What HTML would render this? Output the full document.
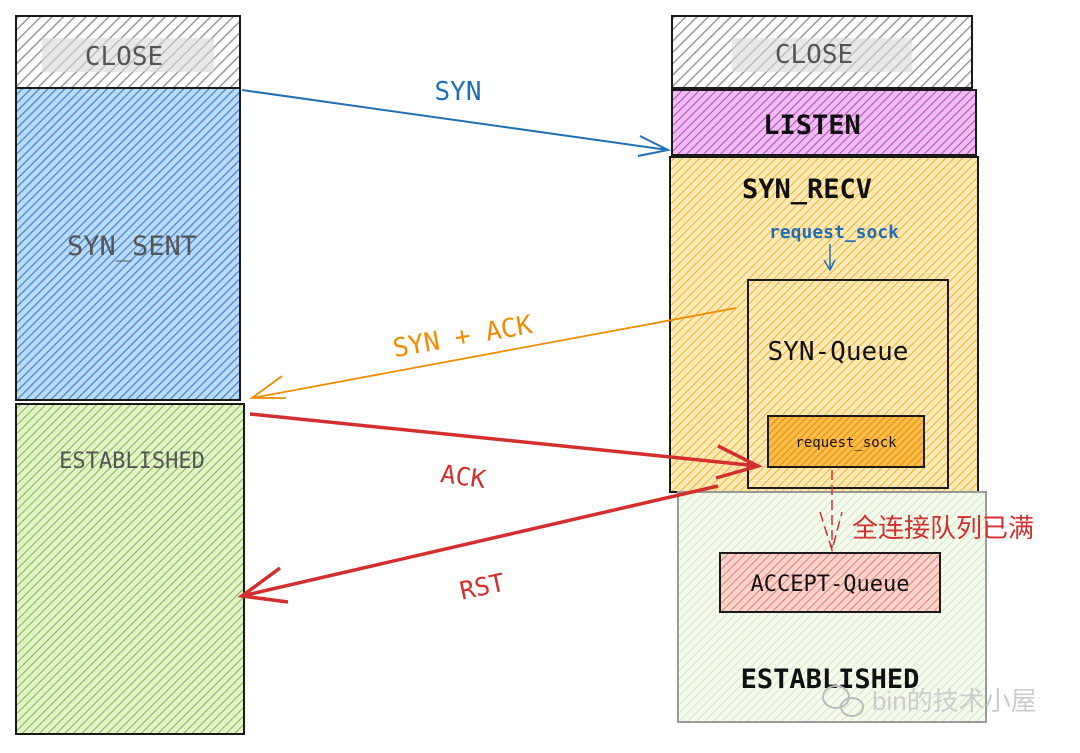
<!DOCTYPE html>
<html><head><meta charset="utf-8"><style>
body{margin:0;background:#fff;width:1080px;height:748px;overflow:hidden}
text{font-family:"DejaVu Sans Mono","Liberation Mono","Noto Sans CJK SC",monospace}
</style></head><body>
<svg width="1080" height="748" xmlns="http://www.w3.org/2000/svg">
<defs>
<pattern id="pg" width="8" height="8" patternUnits="userSpaceOnUse" patternTransform="rotate(45)"><rect width="8" height="8" fill="#fff"/><line x1="0" y1="0" x2="0" y2="8" stroke="#9a9a9a" stroke-width="3"/></pattern>
<pattern id="pb" width="6" height="6" patternUnits="userSpaceOnUse" patternTransform="rotate(45)"><rect width="6" height="6" fill="#bcdaf5"/><line x1="0" y1="0" x2="0" y2="6" stroke="#3d87d6" stroke-width="2.5"/></pattern>
<pattern id="pgr" width="6" height="6" patternUnits="userSpaceOnUse" patternTransform="rotate(45)"><rect width="6" height="6" fill="#e2f2cc"/><line x1="0" y1="0" x2="0" y2="6" stroke="#80bd3a" stroke-width="2"/></pattern>
<pattern id="pp" width="6" height="6" patternUnits="userSpaceOnUse" patternTransform="rotate(45)"><rect width="6" height="6" fill="#eebef0"/><line x1="0" y1="0" x2="0" y2="6" stroke="#c040cc" stroke-width="2"/></pattern>
<pattern id="po" width="6" height="6" patternUnits="userSpaceOnUse" patternTransform="rotate(45)"><rect width="6" height="6" fill="#ffe9b8"/><line x1="0" y1="0" x2="0" y2="6" stroke="#f7b320" stroke-width="2"/></pattern>
<pattern id="po2" width="5" height="5" patternUnits="userSpaceOnUse" patternTransform="rotate(45)"><rect width="5" height="5" fill="#fbbe50"/><line x1="0" y1="0" x2="0" y2="5" stroke="#f39000" stroke-width="2.5"/></pattern>
<pattern id="plg" width="6" height="6" patternUnits="userSpaceOnUse" patternTransform="rotate(45)"><rect width="6" height="6" fill="#f6fbef"/><line x1="0" y1="0" x2="0" y2="6" stroke="#c8e4a8" stroke-width="1.5"/></pattern>
<pattern id="pr" width="6" height="6" patternUnits="userSpaceOnUse" patternTransform="rotate(45)"><rect width="6" height="6" fill="#f9d4cc"/><line x1="0" y1="0" x2="0" y2="6" stroke="#ee7a6a" stroke-width="2"/></pattern>
</defs>
<g stroke="#1a1a1a" stroke-width="2">
<rect x="16" y="16" width="224" height="72" fill="url(#pg)"/>
<rect x="16" y="88" width="224" height="312" fill="url(#pb)"/>
<rect x="16" y="404" width="228" height="330" fill="url(#pgr)"/>
<rect x="672" y="16" width="300" height="72" fill="url(#pg)"/>
<rect x="672" y="90" width="304" height="65" fill="url(#pp)"/>
<rect x="670" y="157" width="308" height="335" fill="url(#po)"/>
<rect x="748" y="280" width="200" height="208" fill="url(#po)"/>
<rect x="768" y="416" width="156" height="51" fill="url(#po2)"/>
<rect x="678" y="492" width="308" height="230" fill="url(#plg)" stroke="#999"/>
<rect x="720" y="553" width="220" height="59" fill="url(#pr)"/>
</g>
<rect x="42" y="38" width="172" height="34" fill="#d8d8d8" opacity="0.6"/>
<rect x="732" y="38" width="180" height="34" fill="#d8d8d8" opacity="0.6"/>
<g font-size="26" fill="#555" text-anchor="middle">
<text x="124" y="65">CLOSE</text>
<text x="814" y="63">CLOSE</text>
<text x="132" y="255" font-size="27">SYN_SENT</text>
</g>
<text x="132" y="468" font-size="22" fill="#555" text-anchor="middle">ESTABLISHED</text>
<g font-size="27" fill="#111" font-weight="bold" style="font-family:'DejaVu Sans',sans-serif">
<text x="812" y="134" text-anchor="middle">LISTEN</text>
<text x="742" y="198">SYN_RECV</text>
<text x="830" y="688" text-anchor="middle">ESTABLISHED</text>
</g>
<text x="838" y="360" font-size="26" fill="#111" text-anchor="middle">SYN-Queue</text>
<text x="846" y="447" font-size="14" fill="#111" text-anchor="middle">request_sock</text>
<text x="830" y="591" font-size="22" fill="#111" text-anchor="middle">ACCEPT-Queue</text>
<text x="834" y="238" font-size="18" font-weight="bold" fill="#1f6fb5" text-anchor="middle">request_sock</text>
<path d="M830 244 L830 268 M824 260 L830 270 L835 260" stroke="#1f6fb5" stroke-width="1.5" fill="none"/>
<path d="M242 90 L668 150 M640 136 L668 150 L638 156" stroke="#1f6fb5" stroke-width="2" fill="none"/>
<text x="458" y="100" font-size="26" fill="#1f6fb5" text-anchor="middle">SYN</text>
<path d="M736 308 L252 398 M282 376 L252 398 L286 398" stroke="#f08c00" stroke-width="1.8" fill="none"/>
<text x="464" y="345" font-size="26" fill="#f08c00" text-anchor="middle" transform="rotate(-10 464 345)">SYN + ACK</text>
<path d="M250 414 L758 466 M718 446 L758 466 L716 478" stroke="#d32f2f" stroke-width="3.5" fill="none"/>
<text x="462" y="485" font-size="25" fill="#d32f2f" text-anchor="middle" transform="rotate(8 462 485)">ACK</text>
<path d="M718 486 L242 596 M280 568 L242 596 L288 602" stroke="#d32f2f" stroke-width="3.5" fill="none"/>
<text x="484" y="595" font-size="25" fill="#d32f2f" text-anchor="middle" transform="rotate(-12 484 595)">RST</text>
<path d="M832 470 L832 548 M820 512 L832 550 L842 512" stroke="#d32f2f" stroke-width="1.5" stroke-dasharray="10 5" fill="none"/>
<text x="852" y="537" font-size="26" fill="#d32f2f" style="font-family:'Noto Sans CJK SC',sans-serif">全连接队列已满</text>
<g fill="none" stroke="#bbb" stroke-width="2"><ellipse cx="836" cy="697" rx="13" ry="11"/><ellipse cx="852" cy="707" rx="11" ry="9"/></g>
<text x="872" y="710" font-size="26" fill="#ccc" style="font-family:'Liberation Sans','Noto Sans CJK SC',sans-serif">bin的技术小屋</text>
</svg>
</body></html>
